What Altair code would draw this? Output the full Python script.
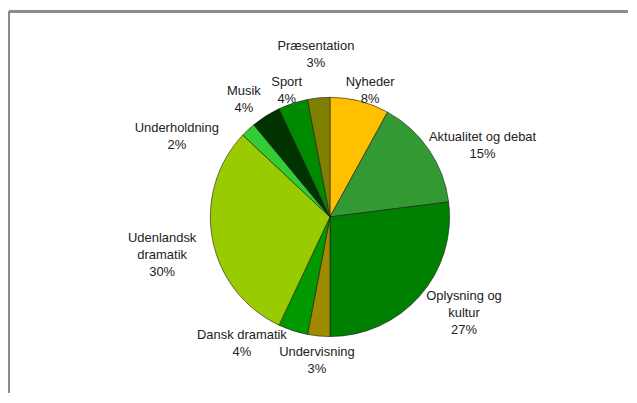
import math
import altair as alt
import pandas as pd

names = ["Nyheder", "Aktualitet og debat", "Oplysning og kultur", "Undervisning",
         "Dansk dramatik", "Udenlandsk dramatik", "Underholdning", "Musik", "Sport",
         "Præsentation"]
values = [8, 15, 27, 3, 4, 30, 2, 4, 4, 3]
label_names = ["Nyheder", "Aktualitet og debat", "Oplysning og\nkultur", "Undervisning",
               "Dansk dramatik", "Udenlandsk\ndramatik", "Underholdning", "Musik", "Sport",
               "Præsentation"]
pct_labels = ["8%", "15%", "27%", "3%", "4%", "30%", "2%", "4%", "4%", "3%"]
colors = ["#FFC000", "#339933", "#008000", "#9E8B00", "#009900", "#99CC00",
          "#33CC33", "#003300", "#008A00", "#808000"]

df = pd.DataFrame({
    "name": names,
    "value": values,
    "idx": list(range(len(names))),
    "label": [f"{a}\n{b}" for a, b in zip(label_names, pct_labels)],
})

W, H = 621, 385
CX, CY = 322, 209
R = 120

base = alt.Chart(df)

pie = base.mark_arc(radius=R, stroke="#1a1a1a", strokeWidth=0.6).encode(
    theta=alt.Theta("value:Q", stack=True),
    order=alt.Order("idx:Q"),
    color=alt.Color("name:N", scale=alt.Scale(domain=names, range=colors), legend=None),
    x=alt.value(CX),
    y=alt.value(CY),
)

# label nudges (dx, dy) relative to slice mid-angle anchor (first text line)
nudges = {
    "Nyheder": (3, 10),
    "Aktualitet og debat": (29, 4),
    "Oplysning og kultur": (22, -20),
    "Undervisning": (1, -14),
    "Dansk dramatik": (-42, -24),
    "Udenlandsk dramatik": (-21, -7),
    "Underholdning": (-51, 20),
    "Musik": (-6, 0),
    "Sport": (3, 7),
    "Præsentation": (0, -22),
}

lab_base = base.transform_window(
    cum="sum(value)", sort=[alt.SortField("idx")], frame=[None, 0]
).transform_calculate(
    mid="datum.cum - datum.value / 2"
)

layers = [pie]
for n in names:
    dx, dy = nudges[n]
    t = lab_base.transform_filter(alt.datum.name == n).mark_text(
        radius=150, fontSize=13, font="Liberation Sans", lineBreak="\n",
        lineHeight=17, align="center", baseline="middle", color="#222222",
        dx=dx, dy=dy,
    ).encode(
        theta=alt.Theta("mid:Q", stack=None,
                        scale=alt.Scale(domain=[0, 100], range=[0, 2 * math.pi])),
        text="label:N",
        x=alt.value(CX),
        y=alt.value(CY),
    )
    layers.append(t)

frame_v = base.mark_rule(color="#8c8c8c", strokeWidth=2).encode(
    x=alt.value(0), y=alt.value(3), y2=alt.value(H)
)
frame_h = base.mark_rule(color="#8c8c8c", strokeWidth=2).encode(
    x=alt.value(0), x2=alt.value(W), y=alt.value(3)
)
layers += [frame_v, frame_h]

chart = alt.layer(*layers).resolve_scale(theta="independent").properties(
    width=W, height=H, padding=0
).configure_view(stroke=None)

chart.save("out.html", embed_options={"renderer": "svg", "actions": False})
